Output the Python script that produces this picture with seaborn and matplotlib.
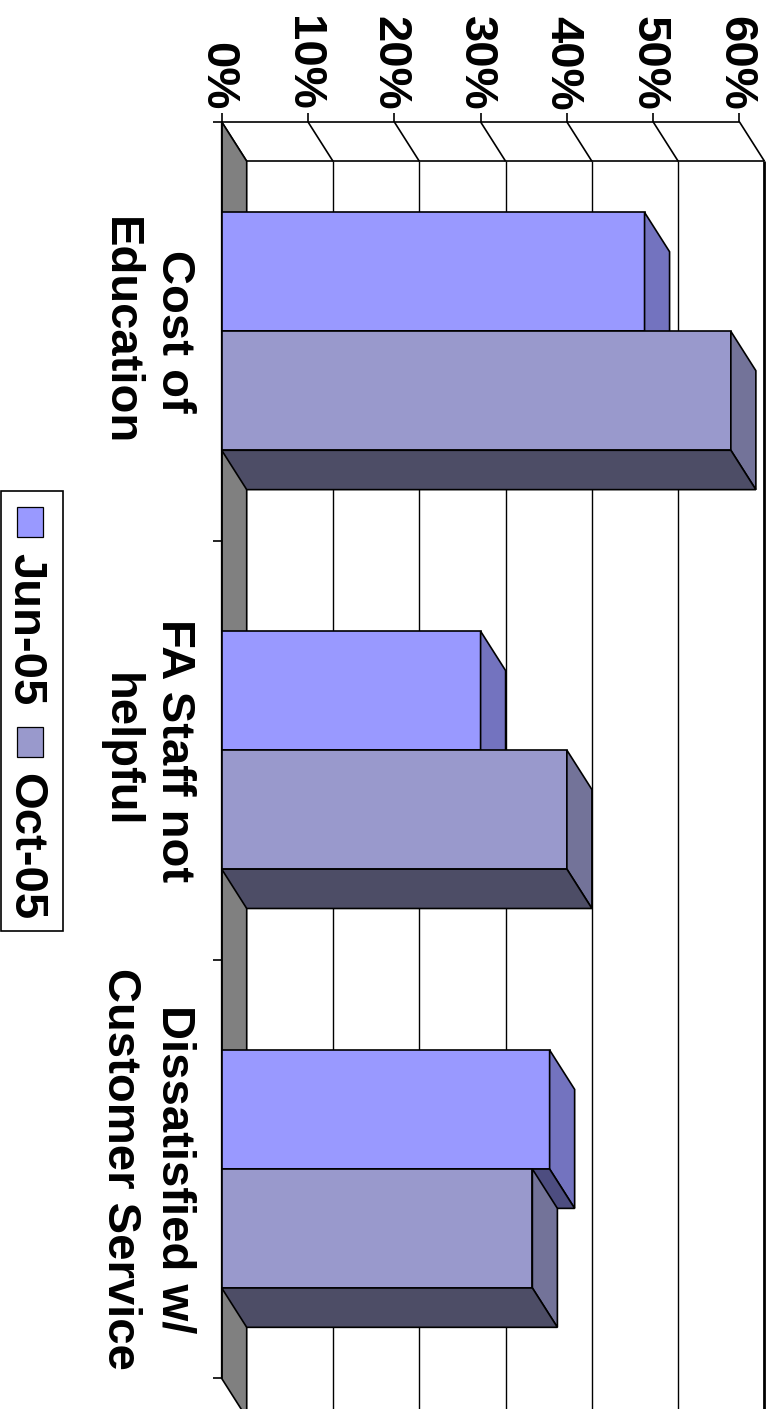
import numpy as np
import pandas as pd
import matplotlib
matplotlib.use("Agg")
import matplotlib.pyplot as plt
from matplotlib.patches import Polygon, Rectangle
from matplotlib.colors import to_rgb
from matplotlib.transforms import ScaledTranslation
import seaborn as sns

# ---- data -------------------------------------------------------------
categories = ["Cost of\nEducation", "FA Staff not\nhelpful", "Dissatisfied w/\nCustomer Service"]
periods = ["Jun-05", "Oct-05"]
jun_05 = [49, 30, 38]
oct_05 = [59, 40, 36]
value_ticks = [0, 10, 20, 30, 40, 50, 60]
value_tick_labels = ["0%", "10%", "20%", "30%", "40%", "50%", "60%"]
period_colors = {"Jun-05": "#9999FF", "Oct-05": "#9999CC"}

# ---- style ------------------------------------------------------------
sns.set_style("white")
plt.rcParams["font.family"] = ["Liberation Sans", "DejaVu Sans"]
plt.rcParams.update({
    "text.color": "black",
    "axes.labelcolor": "black",
    "xtick.color": "black",
    "ytick.color": "black",
})
FS = 34
LW = 1.2

df = pd.DataFrame({
    "reason": categories * 2,
    "period": [periods[0]] * len(categories) + [periods[1]] * len(categories),
    "share": jun_05 + oct_05,
})

W, H = 775, 1409
fig = plt.figure(figsize=(W / 100, H / 100), dpi=100)

# depth of the pseudo-3D box in data units
DX = 2.9     # along the value axis (percent points)
DY = 0.094   # along the category axis

ax = fig.add_axes([221.7 / W, 1 - 1417.8 / H, (764.5 - 221.7) / W, (1417.8 - 121.9) / H])
ax.set_facecolor("none")

sns.barplot(
    data=df, x="share", y="reason", hue="period", orient="h",
    palette=period_colors, width=0.568, saturation=1, errorbar=None,
    edgecolor="black", linewidth=LW, legend=False, ax=ax,
)

ax.set_xlim(0, 60 + DX)
ax.set_ylim(2.5 + DY, -0.5)
ax.set_xlabel("")
ax.set_ylabel("")

# ---- walls and floor --------------------------------------------------
y_front_top, y_front_bot = -0.5, 2.5
# floor strip along the category axis
floor = Polygon(
    [(0, y_front_top), (DX, y_front_top + DY), (DX, y_front_bot + DY), (0, y_front_bot)],
    closed=True, facecolor="#808080", edgecolor="black", linewidth=LW,
    zorder=1.5, clip_on=False,
)
ax.add_patch(floor)

for v in value_ticks:
    # receding lines on the side wall
    ax.plot([v, v + DX], [y_front_top, y_front_top + DY], color="black",
            linewidth=LW, zorder=1, clip_on=False, solid_capstyle="butt")
    if v > 0:
        ax.plot([v + DX, v + DX], [y_front_top + DY, y_front_bot + DY], color="black",
                linewidth=2.0 if v == value_ticks[-1] else 1.0,
                zorder=1, clip_on=False, solid_capstyle="butt")
ax.plot([DX, value_ticks[-1] + DX], [y_front_top + DY, y_front_top + DY],
        color="black", linewidth=LW, zorder=1, clip_on=False)

# ---- 3D faces of the bars --------------------------------------------
for level, container in enumerate(ax.containers):
    z = 3 + level
    for bar in container:
        bar.set_zorder(z)
        x0 = bar.get_x()
        w = x0 + bar.get_width()
        y0 = bar.get_y()
        y1 = y0 + bar.get_height()
        base = np.array(to_rgb(bar.get_facecolor()))
        side = Polygon([(w, y0), (w + DX, y0 + DY), (w + DX, y1 + DY), (w, y1)],
                       closed=True, facecolor=base * 0.75, edgecolor="black",
                       linewidth=LW, zorder=z, clip_on=False)
        under = Polygon([(x0, y1), (w, y1), (w + DX, y1 + DY), (x0 + DX, y1 + DY)],
                        closed=True, facecolor=base * 0.5, edgecolor="black",
                        linewidth=LW, zorder=z, clip_on=False)
        ax.add_patch(side)
        ax.add_patch(under)

# ---- axes, ticks, labels ---------------------------------------------
for s in ("right", "bottom"):
    ax.spines[s].set_visible(False)
ax.spines["top"].set_bounds(0, value_ticks[-1])
ax.spines["left"].set_bounds(y_front_top, y_front_bot)
for s in ("top", "left"):
    ax.spines[s].set_linewidth(LW)
    ax.spines[s].set_color("black")
    ax.spines[s].set_zorder(2)

ax.xaxis.tick_top()
ax.set_xticks(value_ticks)
ax.set_xticklabels(value_tick_labels, rotation=270, fontsize=FS, fontweight="bold")
ax.tick_params(axis="x", which="major", length=6.7, width=LW, pad=1.5,
               direction="out", color="black")
# centre the rotated glyphs (not their descender box) on each tick
shift_left = ScaledTranslation(-4.7 / 100, 0, fig.dpi_scale_trans)
for tick in ax.xaxis.get_major_ticks():
    tick.label2.set_transform(tick.label2.get_transform() + shift_left)

ax.set_yticks(range(len(categories)))
ax.set_yticklabels(categories, rotation=270, fontsize=FS, fontweight="bold",
                   ha="right", va="center", multialignment="center",
                   linespacing=1.3)
ax.set_yticks(np.arange(-0.5, len(categories), 1.0), minor=True)
ax.tick_params(axis="y", which="major", length=0, pad=18.5)
ax.tick_params(axis="y", which="minor", length=6.7, width=LW, direction="out",
               color="black", left=True)

# ---- legend (rotated with the chart) ----------------------------------
def fig_xy(x, y):
    return (x / W, 1 - y / H)

fig.add_artist(Rectangle(fig_xy(1, 931), 62 / W, 440 / H, transform=fig.transFigure,
                         facecolor="white", edgecolor="black", linewidth=LW))
legend_rows = [(periods[0], 537, 553), (periods[1], 757, 773)]
for name, sq_bottom, text_top in legend_rows:
    fig.add_artist(Rectangle(fig_xy(17, sq_bottom), 26 / W, 30 / H,
                             transform=fig.transFigure, facecolor=period_colors[name],
                             edgecolor="black", linewidth=0.9))
    fig.text(25.5 / W, 1 - text_top / H, name, rotation=270, ha="center", va="top",
             fontsize=FS, fontweight="bold")

fig.savefig("out.png", dpi=100)
